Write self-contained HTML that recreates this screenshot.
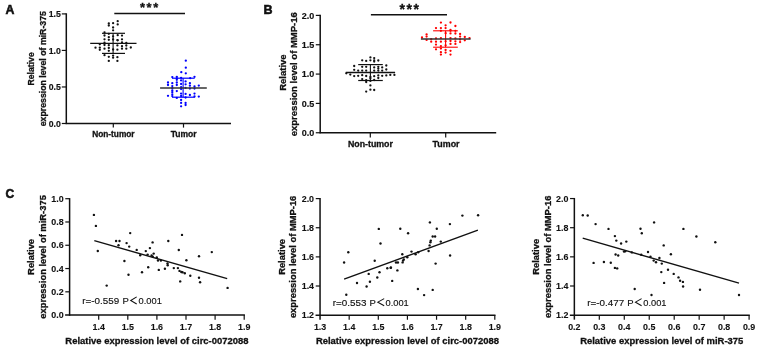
<!DOCTYPE html><html><head><meta charset="utf-8"><style>html,body{margin:0;padding:0;background:#fff;}svg{display:block;will-change:transform;}text{font-family:"Liberation Sans", sans-serif;}</style></head><body>
<svg width="758" height="349" viewBox="0 0 758 349">
<rect width="758" height="349" fill="#fff"/>
<line x1="66.30" y1="13.30" x2="66.30" y2="124.10" stroke="#111" stroke-width="1.5"/>
<line x1="65.70" y1="123.50" x2="231.00" y2="123.50" stroke="#111" stroke-width="1.5"/>
<line x1="61.80" y1="123.50" x2="66.30" y2="123.50" stroke="#111" stroke-width="1.2"/>
<text x="60.80" y="127.00" font-size="8.7" text-anchor="end" font-weight="bold" fill="#111" stroke="#111" stroke-width="0.15">0.0</text>
<line x1="61.80" y1="86.97" x2="66.30" y2="86.97" stroke="#111" stroke-width="1.2"/>
<text x="60.80" y="90.47" font-size="8.7" text-anchor="end" font-weight="bold" fill="#111" stroke="#111" stroke-width="0.15">0.5</text>
<line x1="61.80" y1="50.43" x2="66.30" y2="50.43" stroke="#111" stroke-width="1.2"/>
<text x="60.80" y="53.93" font-size="8.7" text-anchor="end" font-weight="bold" fill="#111" stroke="#111" stroke-width="0.15">1.0</text>
<line x1="61.80" y1="13.90" x2="66.30" y2="13.90" stroke="#111" stroke-width="1.2"/>
<text x="60.80" y="17.40" font-size="8.7" text-anchor="end" font-weight="bold" fill="#111" stroke="#111" stroke-width="0.15">1.5</text>
<line x1="113.30" y1="123.50" x2="113.30" y2="127.60" stroke="#111" stroke-width="1.2"/>
<line x1="183.50" y1="123.50" x2="183.50" y2="127.60" stroke="#111" stroke-width="1.2"/>
<text x="113.40" y="136.50" font-size="8.3" text-anchor="middle" font-weight="bold" fill="#111" stroke="#111" stroke-width="0.3">Non-tumor</text>
<text x="183.60" y="136.50" font-size="8.5" text-anchor="middle" font-weight="bold" fill="#111" stroke="#111" stroke-width="0.3">Tumor</text>
<text x="34.30" y="68.90" font-size="8.7" text-anchor="middle" font-weight="bold" fill="#111" stroke="#111" stroke-width="0.3" transform="rotate(-90 34.30 68.90)">Relative</text>
<text x="46.00" y="68.70" font-size="8.75" text-anchor="middle" font-weight="bold" fill="#111" stroke="#111" stroke-width="0.3" transform="rotate(-90 46.00 68.70)">expression level of miR-375</text>
<text x="5.40" y="13.80" font-size="12.3" text-anchor="start" font-weight="bold" fill="#111" stroke="#111" stroke-width="0.55">A</text>
<line x1="114.30" y1="13.40" x2="185.00" y2="13.40" stroke="#111" stroke-width="1.5"/>
<text x="140.00" y="11.90" font-size="12.9" text-anchor="start" font-weight="bold" fill="#111" stroke="#111" stroke-width="0.3" letter-spacing="1.6">***</text>
<circle cx="108.80" cy="23.40" r="1.15" fill="#111"/>
<circle cx="108.80" cy="25.50" r="1.15" fill="#111"/>
<circle cx="113.10" cy="23.20" r="1.15" fill="#111"/>
<circle cx="113.10" cy="27.50" r="1.15" fill="#111"/>
<circle cx="113.10" cy="30.30" r="1.15" fill="#111"/>
<circle cx="117.70" cy="21.20" r="1.15" fill="#111"/>
<circle cx="117.70" cy="24.40" r="1.15" fill="#111"/>
<circle cx="104.50" cy="32.30" r="1.15" fill="#111"/>
<circle cx="108.80" cy="33.80" r="1.15" fill="#111"/>
<circle cx="104.50" cy="35.50" r="1.15" fill="#111"/>
<circle cx="108.80" cy="37.20" r="1.15" fill="#111"/>
<circle cx="104.50" cy="39.30" r="1.15" fill="#111"/>
<circle cx="108.80" cy="39.80" r="1.15" fill="#111"/>
<circle cx="113.10" cy="36.30" r="1.15" fill="#111"/>
<circle cx="113.10" cy="39.50" r="1.15" fill="#111"/>
<circle cx="117.70" cy="35.20" r="1.15" fill="#111"/>
<circle cx="117.70" cy="40.30" r="1.15" fill="#111"/>
<circle cx="122.00" cy="35.60" r="1.15" fill="#111"/>
<circle cx="122.00" cy="39.30" r="1.15" fill="#111"/>
<circle cx="117.40" cy="40.10" r="1.15" fill="#111"/>
<circle cx="99.80" cy="44.30" r="1.15" fill="#111"/>
<circle cx="104.50" cy="45.00" r="1.15" fill="#111"/>
<circle cx="108.80" cy="45.20" r="1.15" fill="#111"/>
<circle cx="117.40" cy="45.40" r="1.15" fill="#111"/>
<circle cx="122.00" cy="46.20" r="1.15" fill="#111"/>
<circle cx="126.30" cy="43.00" r="1.15" fill="#111"/>
<circle cx="126.30" cy="45.50" r="1.15" fill="#111"/>
<circle cx="95.50" cy="47.70" r="1.15" fill="#111"/>
<circle cx="99.80" cy="47.70" r="1.15" fill="#111"/>
<circle cx="99.80" cy="49.80" r="1.15" fill="#111"/>
<circle cx="104.50" cy="48.70" r="1.15" fill="#111"/>
<circle cx="108.80" cy="48.00" r="1.15" fill="#111"/>
<circle cx="108.80" cy="50.80" r="1.15" fill="#111"/>
<circle cx="113.10" cy="49.50" r="1.15" fill="#111"/>
<circle cx="117.40" cy="49.70" r="1.15" fill="#111"/>
<circle cx="122.00" cy="48.70" r="1.15" fill="#111"/>
<circle cx="126.30" cy="48.70" r="1.15" fill="#111"/>
<circle cx="130.80" cy="47.50" r="1.15" fill="#111"/>
<circle cx="104.50" cy="55.20" r="1.15" fill="#111"/>
<circle cx="108.80" cy="56.80" r="1.15" fill="#111"/>
<circle cx="113.10" cy="55.60" r="1.15" fill="#111"/>
<circle cx="113.10" cy="57.70" r="1.15" fill="#111"/>
<circle cx="117.40" cy="57.20" r="1.15" fill="#111"/>
<circle cx="108.80" cy="60.90" r="1.15" fill="#111"/>
<circle cx="117.40" cy="60.90" r="1.15" fill="#111"/>
<circle cx="122.00" cy="42.50" r="1.15" fill="#111"/>
<circle cx="104.50" cy="42.60" r="1.15" fill="#111"/>
<line x1="90.20" y1="43.30" x2="136.50" y2="43.30" stroke="#111" stroke-width="1.3"/>
<line x1="102.00" y1="33.30" x2="125.00" y2="33.30" stroke="#111" stroke-width="1.2"/>
<line x1="102.00" y1="53.40" x2="125.00" y2="53.40" stroke="#111" stroke-width="1.2"/>
<line x1="113.10" y1="33.30" x2="113.10" y2="53.40" stroke="#111" stroke-width="1.1"/>
<circle cx="185.80" cy="60.70" r="1.15" fill="#0000ff"/>
<circle cx="185.80" cy="67.70" r="1.15" fill="#0000ff"/>
<circle cx="181.30" cy="72.20" r="1.15" fill="#0000ff"/>
<circle cx="185.80" cy="73.30" r="1.15" fill="#0000ff"/>
<circle cx="172.30" cy="77.10" r="1.15" fill="#0000ff"/>
<circle cx="176.80" cy="76.80" r="1.15" fill="#0000ff"/>
<circle cx="176.80" cy="78.30" r="1.15" fill="#0000ff"/>
<circle cx="176.80" cy="79.80" r="1.15" fill="#0000ff"/>
<circle cx="181.10" cy="77.80" r="1.15" fill="#0000ff"/>
<circle cx="181.10" cy="80.40" r="1.15" fill="#0000ff"/>
<circle cx="190.20" cy="78.20" r="1.15" fill="#0000ff"/>
<circle cx="194.50" cy="76.80" r="1.15" fill="#0000ff"/>
<circle cx="168.00" cy="82.50" r="1.15" fill="#0000ff"/>
<circle cx="168.00" cy="85.00" r="1.15" fill="#0000ff"/>
<circle cx="172.30" cy="83.20" r="1.15" fill="#0000ff"/>
<circle cx="172.30" cy="86.10" r="1.15" fill="#0000ff"/>
<circle cx="176.80" cy="82.50" r="1.15" fill="#0000ff"/>
<circle cx="176.80" cy="85.00" r="1.15" fill="#0000ff"/>
<circle cx="181.10" cy="84.00" r="1.15" fill="#0000ff"/>
<circle cx="185.60" cy="81.40" r="1.15" fill="#0000ff"/>
<circle cx="185.60" cy="84.30" r="1.15" fill="#0000ff"/>
<circle cx="189.90" cy="83.20" r="1.15" fill="#0000ff"/>
<circle cx="189.90" cy="85.70" r="1.15" fill="#0000ff"/>
<circle cx="194.50" cy="86.50" r="1.15" fill="#0000ff"/>
<circle cx="194.50" cy="88.60" r="1.15" fill="#0000ff"/>
<circle cx="198.80" cy="85.60" r="1.15" fill="#0000ff"/>
<circle cx="172.30" cy="88.20" r="1.15" fill="#0000ff"/>
<circle cx="172.30" cy="90.40" r="1.15" fill="#0000ff"/>
<circle cx="172.30" cy="92.20" r="1.15" fill="#0000ff"/>
<circle cx="176.80" cy="91.10" r="1.15" fill="#0000ff"/>
<circle cx="181.10" cy="87.20" r="1.15" fill="#0000ff"/>
<circle cx="181.10" cy="89.00" r="1.15" fill="#0000ff"/>
<circle cx="185.60" cy="87.90" r="1.15" fill="#0000ff"/>
<circle cx="189.90" cy="88.60" r="1.15" fill="#0000ff"/>
<circle cx="168.00" cy="95.80" r="1.15" fill="#0000ff"/>
<circle cx="172.30" cy="94.30" r="1.15" fill="#0000ff"/>
<circle cx="172.30" cy="96.10" r="1.15" fill="#0000ff"/>
<circle cx="176.80" cy="97.90" r="1.15" fill="#0000ff"/>
<circle cx="181.10" cy="93.60" r="1.15" fill="#0000ff"/>
<circle cx="181.10" cy="96.00" r="1.15" fill="#0000ff"/>
<circle cx="185.60" cy="93.90" r="1.15" fill="#0000ff"/>
<circle cx="185.60" cy="97.50" r="1.15" fill="#0000ff"/>
<circle cx="189.90" cy="95.00" r="1.15" fill="#0000ff"/>
<circle cx="194.50" cy="93.60" r="1.15" fill="#0000ff"/>
<circle cx="194.50" cy="96.50" r="1.15" fill="#0000ff"/>
<circle cx="198.80" cy="96.60" r="1.15" fill="#0000ff"/>
<circle cx="181.10" cy="100.00" r="1.15" fill="#0000ff"/>
<circle cx="181.10" cy="102.90" r="1.15" fill="#0000ff"/>
<circle cx="181.10" cy="106.30" r="1.15" fill="#0000ff"/>
<circle cx="185.60" cy="102.90" r="1.15" fill="#0000ff"/>
<circle cx="185.60" cy="105.00" r="1.15" fill="#0000ff"/>
<line x1="172.00" y1="78.20" x2="194.70" y2="78.20" stroke="#0000ff" stroke-width="1.2"/>
<line x1="172.00" y1="97.20" x2="194.70" y2="97.20" stroke="#0000ff" stroke-width="1.2"/>
<line x1="183.10" y1="78.20" x2="183.10" y2="97.20" stroke="#0000ff" stroke-width="1.1"/>
<line x1="160.10" y1="88.00" x2="206.80" y2="88.00" stroke="#333" stroke-width="1.4"/>
<line x1="320.20" y1="14.80" x2="320.20" y2="133.35" stroke="#111" stroke-width="1.5"/>
<line x1="319.60" y1="132.75" x2="496.20" y2="132.75" stroke="#111" stroke-width="1.5"/>
<line x1="315.80" y1="132.75" x2="320.20" y2="132.75" stroke="#111" stroke-width="1.2"/>
<text x="314.20" y="136.05" font-size="9.0" text-anchor="end" font-weight="bold" fill="#111" stroke="#111" stroke-width="0.15">0.0</text>
<line x1="315.80" y1="103.41" x2="320.20" y2="103.41" stroke="#111" stroke-width="1.2"/>
<text x="314.20" y="106.71" font-size="9.0" text-anchor="end" font-weight="bold" fill="#111" stroke="#111" stroke-width="0.15">0.5</text>
<line x1="315.80" y1="74.08" x2="320.20" y2="74.08" stroke="#111" stroke-width="1.2"/>
<text x="314.20" y="77.38" font-size="9.0" text-anchor="end" font-weight="bold" fill="#111" stroke="#111" stroke-width="0.15">1.0</text>
<line x1="315.80" y1="44.74" x2="320.20" y2="44.74" stroke="#111" stroke-width="1.2"/>
<text x="314.20" y="48.04" font-size="9.0" text-anchor="end" font-weight="bold" fill="#111" stroke="#111" stroke-width="0.15">1.5</text>
<line x1="315.80" y1="15.40" x2="320.20" y2="15.40" stroke="#111" stroke-width="1.2"/>
<text x="314.20" y="18.70" font-size="9.0" text-anchor="end" font-weight="bold" fill="#111" stroke="#111" stroke-width="0.15">2.0</text>
<line x1="370.30" y1="132.75" x2="370.30" y2="137.60" stroke="#111" stroke-width="1.2"/>
<line x1="445.70" y1="132.75" x2="445.70" y2="137.60" stroke="#111" stroke-width="1.2"/>
<text x="370.40" y="146.90" font-size="8.8" text-anchor="middle" font-weight="bold" fill="#111" stroke="#111" stroke-width="0.3">Non-tumor</text>
<text x="446.10" y="146.90" font-size="8.9" text-anchor="middle" font-weight="bold" fill="#111" stroke="#111" stroke-width="0.3">Tumor</text>
<text x="286.40" y="72.60" font-size="9.5" text-anchor="middle" font-weight="bold" fill="#111" stroke="#111" stroke-width="0.3" transform="rotate(-90 286.40 72.60)">Relative</text>
<text x="297.00" y="74.20" font-size="9.5" text-anchor="middle" font-weight="bold" fill="#111" stroke="#111" stroke-width="0.3" transform="rotate(-90 297.00 74.20)">expression level of MMP-16</text>
<text x="263.60" y="14.00" font-size="12.5" text-anchor="start" font-weight="bold" fill="#111" stroke="#111" stroke-width="0.55">B</text>
<line x1="370.90" y1="14.70" x2="447.00" y2="14.70" stroke="#111" stroke-width="1.5"/>
<text x="399.60" y="13.50" font-size="14" text-anchor="start" font-weight="bold" fill="#111" stroke="#111" stroke-width="0.3" letter-spacing="1.55">***</text>
<circle cx="370.40" cy="57.40" r="1.15" fill="#111"/>
<circle cx="374.20" cy="58.10" r="1.15" fill="#111"/>
<circle cx="362.20" cy="60.30" r="1.15" fill="#111"/>
<circle cx="366.20" cy="60.90" r="1.15" fill="#111"/>
<circle cx="370.40" cy="60.30" r="1.15" fill="#111"/>
<circle cx="374.20" cy="60.30" r="1.15" fill="#111"/>
<circle cx="378.30" cy="60.50" r="1.15" fill="#111"/>
<circle cx="374.20" cy="61.60" r="1.15" fill="#111"/>
<circle cx="354.20" cy="66.00" r="1.15" fill="#111"/>
<circle cx="362.20" cy="66.80" r="1.15" fill="#111"/>
<circle cx="366.20" cy="66.80" r="1.15" fill="#111"/>
<circle cx="374.20" cy="67.40" r="1.15" fill="#111"/>
<circle cx="378.30" cy="66.80" r="1.15" fill="#111"/>
<circle cx="382.20" cy="67.40" r="1.15" fill="#111"/>
<circle cx="386.30" cy="65.50" r="1.15" fill="#111"/>
<circle cx="354.20" cy="69.80" r="1.15" fill="#111"/>
<circle cx="358.20" cy="70.60" r="1.15" fill="#111"/>
<circle cx="362.20" cy="70.60" r="1.15" fill="#111"/>
<circle cx="366.20" cy="70.60" r="1.15" fill="#111"/>
<circle cx="374.20" cy="70.60" r="1.15" fill="#111"/>
<circle cx="378.30" cy="68.60" r="1.15" fill="#111"/>
<circle cx="378.30" cy="70.60" r="1.15" fill="#111"/>
<circle cx="382.20" cy="70.60" r="1.15" fill="#111"/>
<circle cx="386.30" cy="69.50" r="1.15" fill="#111"/>
<circle cx="346.30" cy="73.30" r="1.15" fill="#111"/>
<circle cx="350.30" cy="74.60" r="1.15" fill="#111"/>
<circle cx="354.20" cy="76.10" r="1.15" fill="#111"/>
<circle cx="358.20" cy="75.80" r="1.15" fill="#111"/>
<circle cx="362.20" cy="75.20" r="1.15" fill="#111"/>
<circle cx="366.20" cy="76.00" r="1.15" fill="#111"/>
<circle cx="370.40" cy="76.90" r="1.15" fill="#111"/>
<circle cx="374.20" cy="76.20" r="1.15" fill="#111"/>
<circle cx="378.30" cy="75.40" r="1.15" fill="#111"/>
<circle cx="378.30" cy="78.00" r="1.15" fill="#111"/>
<circle cx="382.20" cy="75.80" r="1.15" fill="#111"/>
<circle cx="386.30" cy="75.40" r="1.15" fill="#111"/>
<circle cx="390.30" cy="74.90" r="1.15" fill="#111"/>
<circle cx="394.40" cy="74.90" r="1.15" fill="#111"/>
<circle cx="362.20" cy="79.10" r="1.15" fill="#111"/>
<circle cx="366.20" cy="80.20" r="1.15" fill="#111"/>
<circle cx="366.20" cy="82.00" r="1.15" fill="#111"/>
<circle cx="370.40" cy="78.30" r="1.15" fill="#111"/>
<circle cx="370.40" cy="80.90" r="1.15" fill="#111"/>
<circle cx="374.20" cy="80.00" r="1.15" fill="#111"/>
<circle cx="370.40" cy="85.40" r="1.15" fill="#111"/>
<circle cx="366.20" cy="91.60" r="1.15" fill="#111"/>
<circle cx="370.40" cy="89.70" r="1.15" fill="#111"/>
<circle cx="374.20" cy="90.00" r="1.15" fill="#111"/>
<line x1="345.80" y1="72.50" x2="395.10" y2="72.50" stroke="#111" stroke-width="1.3"/>
<line x1="358.20" y1="64.60" x2="382.80" y2="64.60" stroke="#111" stroke-width="1.2"/>
<line x1="358.20" y1="80.50" x2="382.80" y2="80.50" stroke="#111" stroke-width="1.2"/>
<line x1="370.40" y1="64.60" x2="370.40" y2="80.50" stroke="#111" stroke-width="1.1"/>
<circle cx="440.90" cy="22.60" r="1.15" fill="#ff0000"/>
<circle cx="450.50" cy="22.50" r="1.15" fill="#ff0000"/>
<circle cx="445.60" cy="25.30" r="1.15" fill="#ff0000"/>
<circle cx="455.40" cy="26.00" r="1.15" fill="#ff0000"/>
<circle cx="436.00" cy="28.10" r="1.15" fill="#ff0000"/>
<circle cx="440.90" cy="28.10" r="1.15" fill="#ff0000"/>
<circle cx="445.60" cy="28.10" r="1.15" fill="#ff0000"/>
<circle cx="450.50" cy="29.90" r="1.15" fill="#ff0000"/>
<circle cx="440.90" cy="30.80" r="1.15" fill="#ff0000"/>
<circle cx="450.50" cy="30.80" r="1.15" fill="#ff0000"/>
<circle cx="455.40" cy="30.80" r="1.15" fill="#ff0000"/>
<circle cx="426.60" cy="34.40" r="1.15" fill="#ff0000"/>
<circle cx="445.60" cy="33.20" r="1.15" fill="#ff0000"/>
<circle cx="450.50" cy="33.40" r="1.15" fill="#ff0000"/>
<circle cx="455.40" cy="33.50" r="1.15" fill="#ff0000"/>
<circle cx="460.10" cy="34.00" r="1.15" fill="#ff0000"/>
<circle cx="426.60" cy="36.60" r="1.15" fill="#ff0000"/>
<circle cx="422.00" cy="37.50" r="1.15" fill="#ff0000"/>
<circle cx="460.10" cy="36.60" r="1.15" fill="#ff0000"/>
<circle cx="464.80" cy="37.00" r="1.15" fill="#ff0000"/>
<circle cx="469.50" cy="38.10" r="1.15" fill="#ff0000"/>
<circle cx="426.60" cy="39.90" r="1.15" fill="#ff0000"/>
<circle cx="431.20" cy="39.20" r="1.15" fill="#ff0000"/>
<circle cx="436.00" cy="38.40" r="1.15" fill="#ff0000"/>
<circle cx="440.90" cy="38.10" r="1.15" fill="#ff0000"/>
<circle cx="450.50" cy="38.10" r="1.15" fill="#ff0000"/>
<circle cx="455.40" cy="38.40" r="1.15" fill="#ff0000"/>
<circle cx="460.10" cy="39.50" r="1.15" fill="#ff0000"/>
<circle cx="464.80" cy="40.30" r="1.15" fill="#ff0000"/>
<circle cx="431.20" cy="41.70" r="1.15" fill="#ff0000"/>
<circle cx="436.00" cy="41.70" r="1.15" fill="#ff0000"/>
<circle cx="440.90" cy="41.70" r="1.15" fill="#ff0000"/>
<circle cx="445.60" cy="41.30" r="1.15" fill="#ff0000"/>
<circle cx="450.50" cy="41.00" r="1.15" fill="#ff0000"/>
<circle cx="455.40" cy="41.30" r="1.15" fill="#ff0000"/>
<circle cx="460.10" cy="42.10" r="1.15" fill="#ff0000"/>
<circle cx="436.00" cy="44.60" r="1.15" fill="#ff0000"/>
<circle cx="440.90" cy="46.10" r="1.15" fill="#ff0000"/>
<circle cx="445.60" cy="45.30" r="1.15" fill="#ff0000"/>
<circle cx="450.50" cy="43.90" r="1.15" fill="#ff0000"/>
<circle cx="455.40" cy="43.90" r="1.15" fill="#ff0000"/>
<circle cx="436.00" cy="49.30" r="1.15" fill="#ff0000"/>
<circle cx="440.90" cy="48.60" r="1.15" fill="#ff0000"/>
<circle cx="445.60" cy="50.00" r="1.15" fill="#ff0000"/>
<circle cx="450.50" cy="50.80" r="1.15" fill="#ff0000"/>
<circle cx="440.90" cy="52.20" r="1.15" fill="#ff0000"/>
<circle cx="445.60" cy="52.60" r="1.15" fill="#ff0000"/>
<circle cx="440.90" cy="54.60" r="1.15" fill="#ff0000"/>
<circle cx="450.50" cy="54.60" r="1.15" fill="#ff0000"/>
<line x1="433.10" y1="30.80" x2="457.80" y2="30.80" stroke="#ff0000" stroke-width="1.1"/>
<line x1="433.10" y1="47.20" x2="457.80" y2="47.20" stroke="#ff0000" stroke-width="1.1"/>
<line x1="445.60" y1="30.80" x2="445.60" y2="47.20" stroke="#ff0000" stroke-width="1.1"/>
<line x1="420.90" y1="39.00" x2="470.60" y2="39.00" stroke="#333" stroke-width="1.4"/>
<text x="5.60" y="197.80" font-size="12" text-anchor="start" font-weight="bold" fill="#111" stroke="#111" stroke-width="0.55">C</text>
<line x1="69.60" y1="198.10" x2="69.60" y2="315.80" stroke="#111" stroke-width="1.5"/>
<line x1="65.10" y1="315.10" x2="244.90" y2="315.10" stroke="#111" stroke-width="1.5"/>
<text x="63.60" y="318.30" font-size="8.9" text-anchor="end" font-weight="bold" fill="#111" stroke="#111" stroke-width="0.1">0.0</text>
<line x1="65.30" y1="291.82" x2="69.60" y2="291.82" stroke="#111" stroke-width="1.2"/>
<text x="63.60" y="295.02" font-size="8.9" text-anchor="end" font-weight="bold" fill="#111" stroke="#111" stroke-width="0.1">0.2</text>
<line x1="65.30" y1="268.54" x2="69.60" y2="268.54" stroke="#111" stroke-width="1.2"/>
<text x="63.60" y="271.74" font-size="8.9" text-anchor="end" font-weight="bold" fill="#111" stroke="#111" stroke-width="0.1">0.4</text>
<line x1="65.30" y1="245.26" x2="69.60" y2="245.26" stroke="#111" stroke-width="1.2"/>
<text x="63.60" y="248.46" font-size="8.9" text-anchor="end" font-weight="bold" fill="#111" stroke="#111" stroke-width="0.1">0.6</text>
<line x1="65.30" y1="221.98" x2="69.60" y2="221.98" stroke="#111" stroke-width="1.2"/>
<text x="63.60" y="225.18" font-size="8.9" text-anchor="end" font-weight="bold" fill="#111" stroke="#111" stroke-width="0.1">0.8</text>
<line x1="65.30" y1="198.70" x2="69.60" y2="198.70" stroke="#111" stroke-width="1.2"/>
<text x="63.60" y="201.90" font-size="8.9" text-anchor="end" font-weight="bold" fill="#111" stroke="#111" stroke-width="0.1">1.0</text>
<text x="69.60" y="329.70" font-size="8.9" text-anchor="middle" font-weight="bold" fill="#111" stroke="#111" stroke-width="0.1"></text>
<line x1="98.70" y1="315.10" x2="98.70" y2="319.70" stroke="#111" stroke-width="1.2"/>
<text x="98.70" y="329.70" font-size="8.9" text-anchor="middle" font-weight="bold" fill="#111" stroke="#111" stroke-width="0.1">1.4</text>
<line x1="127.80" y1="315.10" x2="127.80" y2="319.70" stroke="#111" stroke-width="1.2"/>
<text x="127.80" y="329.70" font-size="8.9" text-anchor="middle" font-weight="bold" fill="#111" stroke="#111" stroke-width="0.1">1.5</text>
<line x1="156.90" y1="315.10" x2="156.90" y2="319.70" stroke="#111" stroke-width="1.2"/>
<text x="156.90" y="329.70" font-size="8.9" text-anchor="middle" font-weight="bold" fill="#111" stroke="#111" stroke-width="0.1">1.6</text>
<line x1="186.00" y1="315.10" x2="186.00" y2="319.70" stroke="#111" stroke-width="1.2"/>
<text x="186.00" y="329.70" font-size="8.9" text-anchor="middle" font-weight="bold" fill="#111" stroke="#111" stroke-width="0.1">1.7</text>
<line x1="215.10" y1="315.10" x2="215.10" y2="319.70" stroke="#111" stroke-width="1.2"/>
<text x="215.10" y="329.70" font-size="8.9" text-anchor="middle" font-weight="bold" fill="#111" stroke="#111" stroke-width="0.1">1.8</text>
<line x1="244.20" y1="315.10" x2="244.20" y2="319.70" stroke="#111" stroke-width="1.2"/>
<text x="244.20" y="329.70" font-size="8.9" text-anchor="middle" font-weight="bold" fill="#111" stroke="#111" stroke-width="0.1">1.9</text>
<text x="156.90" y="344.00" font-size="9.45" text-anchor="middle" font-weight="bold" fill="#111" stroke="#111" stroke-width="0.3">Relative expression level of circ-0072088</text>
<text x="34.30" y="256.90" font-size="9.4" text-anchor="middle" font-weight="bold" fill="#111" stroke="#111" stroke-width="0.3" transform="rotate(-90 34.30 256.90)">Relative</text>
<text x="45.90" y="256.90" font-size="9.4" text-anchor="middle" font-weight="bold" fill="#111" stroke="#111" stroke-width="0.3" transform="rotate(-90 45.90 256.90)">expression level of miR-375</text>
<line x1="320.05" y1="198.00" x2="320.05" y2="319.65" stroke="#111" stroke-width="1.5"/>
<line x1="315.55" y1="315.15" x2="495.50" y2="315.15" stroke="#111" stroke-width="1.5"/>
<text x="314.05" y="318.35" font-size="8.9" text-anchor="end" font-weight="bold" fill="#111" stroke="#111" stroke-width="0.1">1.2</text>
<line x1="315.75" y1="286.01" x2="320.05" y2="286.01" stroke="#111" stroke-width="1.2"/>
<text x="314.05" y="289.21" font-size="8.9" text-anchor="end" font-weight="bold" fill="#111" stroke="#111" stroke-width="0.1">1.4</text>
<line x1="315.75" y1="256.88" x2="320.05" y2="256.88" stroke="#111" stroke-width="1.2"/>
<text x="314.05" y="260.07" font-size="8.9" text-anchor="end" font-weight="bold" fill="#111" stroke="#111" stroke-width="0.1">1.6</text>
<line x1="315.75" y1="227.74" x2="320.05" y2="227.74" stroke="#111" stroke-width="1.2"/>
<text x="314.05" y="230.94" font-size="8.9" text-anchor="end" font-weight="bold" fill="#111" stroke="#111" stroke-width="0.1">1.8</text>
<line x1="315.75" y1="198.60" x2="320.05" y2="198.60" stroke="#111" stroke-width="1.2"/>
<text x="314.05" y="201.80" font-size="8.9" text-anchor="end" font-weight="bold" fill="#111" stroke="#111" stroke-width="0.1">2.0</text>
<text x="320.05" y="329.75" font-size="8.9" text-anchor="middle" font-weight="bold" fill="#111" stroke="#111" stroke-width="0.1">1.3</text>
<line x1="349.18" y1="315.15" x2="349.18" y2="319.75" stroke="#111" stroke-width="1.2"/>
<text x="349.18" y="329.75" font-size="8.9" text-anchor="middle" font-weight="bold" fill="#111" stroke="#111" stroke-width="0.1">1.4</text>
<line x1="378.30" y1="315.15" x2="378.30" y2="319.75" stroke="#111" stroke-width="1.2"/>
<text x="378.30" y="329.75" font-size="8.9" text-anchor="middle" font-weight="bold" fill="#111" stroke="#111" stroke-width="0.1">1.5</text>
<line x1="407.43" y1="315.15" x2="407.43" y2="319.75" stroke="#111" stroke-width="1.2"/>
<text x="407.43" y="329.75" font-size="8.9" text-anchor="middle" font-weight="bold" fill="#111" stroke="#111" stroke-width="0.1">1.6</text>
<line x1="436.55" y1="315.15" x2="436.55" y2="319.75" stroke="#111" stroke-width="1.2"/>
<text x="436.55" y="329.75" font-size="8.9" text-anchor="middle" font-weight="bold" fill="#111" stroke="#111" stroke-width="0.1">1.7</text>
<line x1="465.68" y1="315.15" x2="465.68" y2="319.75" stroke="#111" stroke-width="1.2"/>
<text x="465.68" y="329.75" font-size="8.9" text-anchor="middle" font-weight="bold" fill="#111" stroke="#111" stroke-width="0.1">1.8</text>
<line x1="494.80" y1="315.15" x2="494.80" y2="319.75" stroke="#111" stroke-width="1.2"/>
<text x="494.80" y="329.75" font-size="8.9" text-anchor="middle" font-weight="bold" fill="#111" stroke="#111" stroke-width="0.1">1.9</text>
<text x="407.43" y="344.00" font-size="9.45" text-anchor="middle" font-weight="bold" fill="#111" stroke="#111" stroke-width="0.3">Relative expression level of circ-0072088</text>
<text x="284.60" y="256.88" font-size="9.4" text-anchor="middle" font-weight="bold" fill="#111" stroke="#111" stroke-width="0.3" transform="rotate(-90 284.60 256.88)">Relative</text>
<text x="296.30" y="256.88" font-size="9.4" text-anchor="middle" font-weight="bold" fill="#111" stroke="#111" stroke-width="0.3" transform="rotate(-90 296.30 256.88)">expression level of MMP-16</text>
<line x1="574.35" y1="197.95" x2="574.35" y2="319.65" stroke="#111" stroke-width="1.5"/>
<line x1="569.85" y1="315.15" x2="749.80" y2="315.15" stroke="#111" stroke-width="1.5"/>
<text x="568.35" y="318.35" font-size="8.9" text-anchor="end" font-weight="bold" fill="#111" stroke="#111" stroke-width="0.1">1.2</text>
<line x1="570.05" y1="286.00" x2="574.35" y2="286.00" stroke="#111" stroke-width="1.2"/>
<text x="568.35" y="289.20" font-size="8.9" text-anchor="end" font-weight="bold" fill="#111" stroke="#111" stroke-width="0.1">1.4</text>
<line x1="570.05" y1="256.85" x2="574.35" y2="256.85" stroke="#111" stroke-width="1.2"/>
<text x="568.35" y="260.05" font-size="8.9" text-anchor="end" font-weight="bold" fill="#111" stroke="#111" stroke-width="0.1">1.6</text>
<line x1="570.05" y1="227.70" x2="574.35" y2="227.70" stroke="#111" stroke-width="1.2"/>
<text x="568.35" y="230.90" font-size="8.9" text-anchor="end" font-weight="bold" fill="#111" stroke="#111" stroke-width="0.1">1.8</text>
<line x1="570.05" y1="198.55" x2="574.35" y2="198.55" stroke="#111" stroke-width="1.2"/>
<text x="568.35" y="201.75" font-size="8.9" text-anchor="end" font-weight="bold" fill="#111" stroke="#111" stroke-width="0.1">2.0</text>
<text x="574.35" y="329.75" font-size="8.9" text-anchor="middle" font-weight="bold" fill="#111" stroke="#111" stroke-width="0.1">0.2</text>
<line x1="599.31" y1="315.15" x2="599.31" y2="319.75" stroke="#111" stroke-width="1.2"/>
<text x="599.31" y="329.75" font-size="8.9" text-anchor="middle" font-weight="bold" fill="#111" stroke="#111" stroke-width="0.1">0.3</text>
<line x1="624.28" y1="315.15" x2="624.28" y2="319.75" stroke="#111" stroke-width="1.2"/>
<text x="624.28" y="329.75" font-size="8.9" text-anchor="middle" font-weight="bold" fill="#111" stroke="#111" stroke-width="0.1">0.4</text>
<line x1="649.24" y1="315.15" x2="649.24" y2="319.75" stroke="#111" stroke-width="1.2"/>
<text x="649.24" y="329.75" font-size="8.9" text-anchor="middle" font-weight="bold" fill="#111" stroke="#111" stroke-width="0.1">0.5</text>
<line x1="674.21" y1="315.15" x2="674.21" y2="319.75" stroke="#111" stroke-width="1.2"/>
<text x="674.21" y="329.75" font-size="8.9" text-anchor="middle" font-weight="bold" fill="#111" stroke="#111" stroke-width="0.1">0.6</text>
<line x1="699.17" y1="315.15" x2="699.17" y2="319.75" stroke="#111" stroke-width="1.2"/>
<text x="699.17" y="329.75" font-size="8.9" text-anchor="middle" font-weight="bold" fill="#111" stroke="#111" stroke-width="0.1">0.7</text>
<line x1="724.14" y1="315.15" x2="724.14" y2="319.75" stroke="#111" stroke-width="1.2"/>
<text x="724.14" y="329.75" font-size="8.9" text-anchor="middle" font-weight="bold" fill="#111" stroke="#111" stroke-width="0.1">0.8</text>
<line x1="749.10" y1="315.15" x2="749.10" y2="319.75" stroke="#111" stroke-width="1.2"/>
<text x="749.10" y="329.75" font-size="8.9" text-anchor="middle" font-weight="bold" fill="#111" stroke="#111" stroke-width="0.1">0.9</text>
<text x="661.73" y="344.00" font-size="9.45" text-anchor="middle" font-weight="bold" fill="#111" stroke="#111" stroke-width="0.3">Relative expression level of miR-375</text>
<text x="538.80" y="256.85" font-size="9.4" text-anchor="middle" font-weight="bold" fill="#111" stroke="#111" stroke-width="0.3" transform="rotate(-90 538.80 256.85)">Relative</text>
<text x="551.00" y="256.85" font-size="9.4" text-anchor="middle" font-weight="bold" fill="#111" stroke="#111" stroke-width="0.3" transform="rotate(-90 551.00 256.85)">expression level of MMP-16</text>
<circle cx="93.90" cy="214.90" r="1.2" fill="#111"/>
<circle cx="95.90" cy="225.90" r="1.2" fill="#111"/>
<circle cx="97.80" cy="251.00" r="1.2" fill="#111"/>
<circle cx="106.70" cy="285.60" r="1.2" fill="#111"/>
<circle cx="116.10" cy="241.00" r="1.2" fill="#111"/>
<circle cx="119.50" cy="241.00" r="1.2" fill="#111"/>
<circle cx="118.50" cy="245.30" r="1.2" fill="#111"/>
<circle cx="124.40" cy="261.00" r="1.2" fill="#111"/>
<circle cx="126.60" cy="243.10" r="1.2" fill="#111"/>
<circle cx="128.50" cy="274.70" r="1.2" fill="#111"/>
<circle cx="129.20" cy="246.60" r="1.2" fill="#111"/>
<circle cx="130.20" cy="233.10" r="1.2" fill="#111"/>
<circle cx="136.70" cy="249.90" r="1.2" fill="#111"/>
<circle cx="140.20" cy="255.30" r="1.2" fill="#111"/>
<circle cx="142.00" cy="272.20" r="1.2" fill="#111"/>
<circle cx="145.80" cy="251.10" r="1.2" fill="#111"/>
<circle cx="147.60" cy="254.60" r="1.2" fill="#111"/>
<circle cx="148.20" cy="267.30" r="1.2" fill="#111"/>
<circle cx="149.90" cy="248.10" r="1.2" fill="#111"/>
<circle cx="151.60" cy="255.50" r="1.2" fill="#111"/>
<circle cx="152.60" cy="242.40" r="1.2" fill="#111"/>
<circle cx="152.80" cy="256.70" r="1.2" fill="#111"/>
<circle cx="153.70" cy="253.60" r="1.2" fill="#111"/>
<circle cx="156.80" cy="257.50" r="1.2" fill="#111"/>
<circle cx="158.00" cy="260.50" r="1.2" fill="#111"/>
<circle cx="158.80" cy="269.90" r="1.2" fill="#111"/>
<circle cx="160.90" cy="260.60" r="1.2" fill="#111"/>
<circle cx="164.90" cy="268.70" r="1.2" fill="#111"/>
<circle cx="167.50" cy="263.50" r="1.2" fill="#111"/>
<circle cx="167.70" cy="265.30" r="1.2" fill="#111"/>
<circle cx="168.30" cy="241.00" r="1.2" fill="#111"/>
<circle cx="173.80" cy="268.10" r="1.2" fill="#111"/>
<circle cx="177.90" cy="268.10" r="1.2" fill="#111"/>
<circle cx="178.80" cy="250.00" r="1.2" fill="#111"/>
<circle cx="179.50" cy="270.90" r="1.2" fill="#111"/>
<circle cx="180.20" cy="281.40" r="1.2" fill="#111"/>
<circle cx="181.30" cy="272.00" r="1.2" fill="#111"/>
<circle cx="182.00" cy="234.90" r="1.2" fill="#111"/>
<circle cx="182.50" cy="272.30" r="1.2" fill="#111"/>
<circle cx="184.80" cy="273.20" r="1.2" fill="#111"/>
<circle cx="186.40" cy="260.30" r="1.2" fill="#111"/>
<circle cx="190.30" cy="275.70" r="1.2" fill="#111"/>
<circle cx="199.00" cy="256.20" r="1.2" fill="#111"/>
<circle cx="199.00" cy="277.80" r="1.2" fill="#111"/>
<circle cx="200.10" cy="282.30" r="1.2" fill="#111"/>
<circle cx="211.80" cy="252.10" r="1.2" fill="#111"/>
<circle cx="227.60" cy="287.90" r="1.2" fill="#111"/>
<circle cx="378.80" cy="228.90" r="1.2" fill="#111"/>
<circle cx="380.50" cy="243.50" r="1.2" fill="#111"/>
<circle cx="348.30" cy="252.30" r="1.2" fill="#111"/>
<circle cx="344.10" cy="262.50" r="1.2" fill="#111"/>
<circle cx="374.70" cy="260.80" r="1.2" fill="#111"/>
<circle cx="368.70" cy="273.90" r="1.2" fill="#111"/>
<circle cx="379.50" cy="272.20" r="1.2" fill="#111"/>
<circle cx="377.30" cy="277.50" r="1.2" fill="#111"/>
<circle cx="369.90" cy="281.80" r="1.2" fill="#111"/>
<circle cx="357.00" cy="283.00" r="1.2" fill="#111"/>
<circle cx="366.60" cy="286.50" r="1.2" fill="#111"/>
<circle cx="346.30" cy="294.70" r="1.2" fill="#111"/>
<circle cx="387.30" cy="268.20" r="1.2" fill="#111"/>
<circle cx="390.70" cy="267.90" r="1.2" fill="#111"/>
<circle cx="397.40" cy="270.40" r="1.2" fill="#111"/>
<circle cx="392.20" cy="280.90" r="1.2" fill="#111"/>
<circle cx="396.00" cy="262.50" r="1.2" fill="#111"/>
<circle cx="397.90" cy="262.50" r="1.2" fill="#111"/>
<circle cx="402.30" cy="254.30" r="1.2" fill="#111"/>
<circle cx="403.10" cy="260.60" r="1.2" fill="#111"/>
<circle cx="402.60" cy="262.40" r="1.2" fill="#111"/>
<circle cx="407.30" cy="257.20" r="1.2" fill="#111"/>
<circle cx="400.30" cy="228.70" r="1.2" fill="#111"/>
<circle cx="408.10" cy="233.20" r="1.2" fill="#111"/>
<circle cx="429.90" cy="222.40" r="1.2" fill="#111"/>
<circle cx="436.80" cy="228.70" r="1.2" fill="#111"/>
<circle cx="449.90" cy="224.10" r="1.2" fill="#111"/>
<circle cx="462.40" cy="215.60" r="1.2" fill="#111"/>
<circle cx="478.10" cy="215.20" r="1.2" fill="#111"/>
<circle cx="432.70" cy="236.50" r="1.2" fill="#111"/>
<circle cx="435.10" cy="236.50" r="1.2" fill="#111"/>
<circle cx="430.80" cy="240.60" r="1.2" fill="#111"/>
<circle cx="430.40" cy="242.20" r="1.2" fill="#111"/>
<circle cx="440.80" cy="241.60" r="1.2" fill="#111"/>
<circle cx="429.60" cy="245.40" r="1.2" fill="#111"/>
<circle cx="428.60" cy="251.00" r="1.2" fill="#111"/>
<circle cx="450.10" cy="255.50" r="1.2" fill="#111"/>
<circle cx="411.50" cy="251.60" r="1.2" fill="#111"/>
<circle cx="415.60" cy="254.30" r="1.2" fill="#111"/>
<circle cx="418.20" cy="252.20" r="1.2" fill="#111"/>
<circle cx="403.80" cy="259.40" r="1.2" fill="#111"/>
<circle cx="435.60" cy="263.60" r="1.2" fill="#111"/>
<circle cx="417.90" cy="289.00" r="1.2" fill="#111"/>
<circle cx="432.70" cy="289.90" r="1.2" fill="#111"/>
<circle cx="424.10" cy="295.10" r="1.2" fill="#111"/>
<circle cx="390.90" cy="267.50" r="1.2" fill="#111"/>
<circle cx="582.80" cy="215.20" r="1.2" fill="#111"/>
<circle cx="587.70" cy="215.50" r="1.2" fill="#111"/>
<circle cx="595.60" cy="224.10" r="1.2" fill="#111"/>
<circle cx="608.50" cy="228.90" r="1.2" fill="#111"/>
<circle cx="640.50" cy="228.80" r="1.2" fill="#111"/>
<circle cx="641.80" cy="233.20" r="1.2" fill="#111"/>
<circle cx="654.10" cy="222.40" r="1.2" fill="#111"/>
<circle cx="614.90" cy="236.10" r="1.2" fill="#111"/>
<circle cx="616.30" cy="240.60" r="1.2" fill="#111"/>
<circle cx="621.10" cy="243.50" r="1.2" fill="#111"/>
<circle cx="626.30" cy="241.60" r="1.2" fill="#111"/>
<circle cx="624.00" cy="251.60" r="1.2" fill="#111"/>
<circle cx="625.20" cy="251.30" r="1.2" fill="#111"/>
<circle cx="648.00" cy="252.00" r="1.2" fill="#111"/>
<circle cx="615.60" cy="254.50" r="1.2" fill="#111"/>
<circle cx="618.20" cy="255.50" r="1.2" fill="#111"/>
<circle cx="641.20" cy="254.70" r="1.2" fill="#111"/>
<circle cx="650.50" cy="256.80" r="1.2" fill="#111"/>
<circle cx="593.60" cy="262.90" r="1.2" fill="#111"/>
<circle cx="603.90" cy="262.00" r="1.2" fill="#111"/>
<circle cx="610.80" cy="262.70" r="1.2" fill="#111"/>
<circle cx="614.90" cy="267.90" r="1.2" fill="#111"/>
<circle cx="617.20" cy="268.40" r="1.2" fill="#111"/>
<circle cx="631.80" cy="252.40" r="1.2" fill="#111"/>
<circle cx="653.70" cy="260.60" r="1.2" fill="#111"/>
<circle cx="656.00" cy="262.20" r="1.2" fill="#111"/>
<circle cx="659.40" cy="258.00" r="1.2" fill="#111"/>
<circle cx="661.80" cy="263.60" r="1.2" fill="#111"/>
<circle cx="661.30" cy="272.10" r="1.2" fill="#111"/>
<circle cx="668.00" cy="269.80" r="1.2" fill="#111"/>
<circle cx="673.70" cy="273.90" r="1.2" fill="#111"/>
<circle cx="678.50" cy="277.40" r="1.2" fill="#111"/>
<circle cx="680.10" cy="280.80" r="1.2" fill="#111"/>
<circle cx="682.90" cy="281.90" r="1.2" fill="#111"/>
<circle cx="683.10" cy="286.50" r="1.2" fill="#111"/>
<circle cx="664.10" cy="282.90" r="1.2" fill="#111"/>
<circle cx="700.00" cy="289.70" r="1.2" fill="#111"/>
<circle cx="651.50" cy="295.00" r="1.2" fill="#111"/>
<circle cx="739.00" cy="295.00" r="1.2" fill="#111"/>
<circle cx="634.70" cy="289.00" r="1.2" fill="#111"/>
<circle cx="663.70" cy="245.40" r="1.2" fill="#111"/>
<circle cx="670.90" cy="254.30" r="1.2" fill="#111"/>
<circle cx="683.40" cy="228.90" r="1.2" fill="#111"/>
<circle cx="696.40" cy="236.50" r="1.2" fill="#111"/>
<circle cx="715.30" cy="242.20" r="1.2" fill="#111"/>
<line x1="94.30" y1="240.60" x2="227.20" y2="278.70" stroke="#111" stroke-width="1.4"/>
<line x1="344.10" y1="279.20" x2="477.90" y2="230.10" stroke="#111" stroke-width="1.4"/>
<line x1="582.70" y1="238.20" x2="739.00" y2="283.10" stroke="#111" stroke-width="1.4"/>
<text transform="translate(82.30 303.90) scale(1.015 1)" x="0" y="0" font-size="9.7" font-weight="normal" fill="#111" stroke="#111" stroke-width="0.15">r=-0.559</text>
<text transform="translate(122.40 303.90) scale(0.98 1)" x="0" y="0" font-size="9.7" font-weight="normal" fill="#111" stroke="#111" stroke-width="0.15">P</text>
<polyline points="136.70,296.90 130.70,300.45 136.70,304.00" fill="none" stroke="#111" stroke-width="1.05"/>
<text transform="translate(138.60 303.90) scale(0.958 1)" x="0" y="0" font-size="9.7" font-weight="normal" fill="#111" stroke="#111" stroke-width="0.15">0.001</text>
<text transform="translate(332.80 305.60) scale(1.015 1)" x="0" y="0" font-size="9.7" font-weight="normal" fill="#111" stroke="#111" stroke-width="0.15">r=0.553</text>
<text transform="translate(369.60 305.60) scale(0.98 1)" x="0" y="0" font-size="9.7" font-weight="normal" fill="#111" stroke="#111" stroke-width="0.15">P</text>
<polyline points="384.20,298.60 377.80,302.15 384.20,305.70" fill="none" stroke="#111" stroke-width="1.05"/>
<text transform="translate(385.50 305.60) scale(0.958 1)" x="0" y="0" font-size="9.7" font-weight="normal" fill="#111" stroke="#111" stroke-width="0.15">0.001</text>
<text transform="translate(587.30 305.60) scale(1.015 1)" x="0" y="0" font-size="9.7" font-weight="normal" fill="#111" stroke="#111" stroke-width="0.15">r=-0.477</text>
<text transform="translate(627.30 305.60) scale(0.98 1)" x="0" y="0" font-size="9.7" font-weight="normal" fill="#111" stroke="#111" stroke-width="0.15">P</text>
<polyline points="641.60,298.60 635.50,302.15 641.60,305.70" fill="none" stroke="#111" stroke-width="1.05"/>
<text transform="translate(643.30 305.60) scale(0.958 1)" x="0" y="0" font-size="9.7" font-weight="normal" fill="#111" stroke="#111" stroke-width="0.15">0.001</text>
</svg></body></html>
